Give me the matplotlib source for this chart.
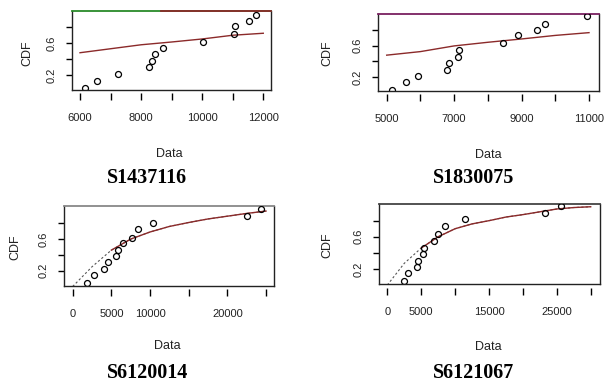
import matplotlib
matplotlib.use("Agg")
import matplotlib.pyplot as plt

# ---------------- data ----------------
titles = ["S1437116", "S1830075", "S6120014", "S6121067"]

p1_x = [6160, 6550, 7240, 8270, 8370, 8440, 8710, 10040, 11030, 11070, 11520, 11760]
p1_y = [0.04, 0.13, 0.21, 0.30, 0.37, 0.46, 0.54, 0.62, 0.72, 0.81, 0.88, 0.96]
p1_cx = [6000, 7000, 8000, 9000, 10000, 11000, 12000]
p1_cy = [0.48, 0.53, 0.58, 0.615, 0.653, 0.70, 0.725]

p2_x = [5150, 5560, 5920, 6800, 6850, 7110, 7150, 8460, 8880, 9470, 9680, 10940]
p2_y = [0.04, 0.14, 0.22, 0.29, 0.38, 0.46, 0.55, 0.63, 0.73, 0.80, 0.88, 0.97]
p2_cx = [5000, 6000, 7000, 8000, 9000, 10000, 11000]
p2_cy = [0.48, 0.525, 0.597, 0.643, 0.685, 0.73, 0.765]

p3_x = [1810, 2790, 4040, 4520, 5560, 5890, 6460, 7620, 8480, 10410, 22560, 24290]
p3_y = [0.05, 0.14, 0.22, 0.31, 0.39, 0.46, 0.55, 0.62, 0.73, 0.81, 0.89, 0.98]
p3_cx = [0, 2500, 5000, 7500, 10000, 12500, 15000, 17500, 20000, 22500, 25000]
p3_cy = [0.0, 0.25, 0.46, 0.60, 0.69, 0.76, 0.81, 0.855, 0.89, 0.925, 0.955]

p4_x = [2460, 3100, 4340, 4570, 5220, 5460, 6890, 7520, 8510, 11460, 23260, 25580]
p4_y = [0.055, 0.15, 0.23, 0.30, 0.38, 0.46, 0.55, 0.63, 0.73, 0.82, 0.89, 0.98]
p4_cx = [0, 2500, 5000, 7500, 10000, 12500, 15000, 17500, 20000, 22500, 25000, 27500, 30000]
p4_cy = [0.0, 0.27, 0.46, 0.60, 0.70, 0.76, 0.80, 0.845, 0.875, 0.91, 0.945, 0.963, 0.973]

x_ticks = [
    [6000, 7000, 8000, 9000, 10000, 11000, 12000],
    [5000, 6000, 7000, 8000, 9000, 10000, 11000],
    [0, 5000, 10000, 15000, 20000, 25000],
    [0, 5000, 10000, 15000, 20000, 25000, 30000],
]
x_ticklabels = [
    ["6000", "", "8000", "", "10000", "", "12000"],
    ["5000", "", "7000", "", "9000", "", "11000"],
    ["0", "5000", "10000", "", "20000", ""],
    ["0", "5000", "", "15000", "", "25000", ""],
]
y_ticks = [0.2, 0.4, 0.6, 0.8]
y_ticklabels = ["0.2", "", "0.6", ""]

# ---------------- layout ----------------
W, H = 608, 385
fig = plt.figure(figsize=(W / 100, H / 100), dpi=100)
fig.patch.set_facecolor("white")

sans = "Liberation Sans"
serif = "Liberation Serif"

boxes = [  # left, right, top, bottom in pixels
    (72, 270.5, 11, 90),
    (378.3, 598.7, 14, 90.7),
    (64, 274.3, 206, 285.7),
    (379.3, 599.7, 204, 284.3),
]
xlims = [(5738, 12236), (4751, 11287), (-1125, 26073), (-1180, 31327)]
ylims = [(0.011, 1.005), (0.03, 1.001), (0.01, 1.019), (0.01, 1.007)]
cdf_pos = [(27, 53), (327, 53), (15, 247), (327, 245)]
data_pos = [(169.5, 154), (488, 155), (167.5, 346), (488, 346.5)]
title_pos = [(147.5, 178), (474, 178), (147.5, 372.7), (474, 372.7)]
top_colors = ["#2a8a2a", "#7a2060", "#888888", "#444444"]

pts = [(p1_x, p1_y), (p2_x, p2_y), (p3_x, p3_y), (p4_x, p4_y)]
curves = [(p1_cx, p1_cy), (p2_cx, p2_cy), (p3_cx, p3_cy), (p4_cx, p4_cy)]
red = "#8b2a2a"

for i in range(4):
    l, r, t, b = boxes[i]
    ax = fig.add_axes([l / W, 1 - b / H, (r - l) / W, (b - t) / H])
    ax.spines["bottom"].set_position(("outward", 2.5))
    ax.spines["bottom"].set_visible(False)
    cx, cy = curves[i]
    if i >= 2:
        ax.plot(cx, cy, color="#555555", lw=0.8, linestyle=(0, (2, 2)), zorder=2)
        ax.plot(cx[2:], cy[2:], color=red, lw=1.0, zorder=3)
    else:
        ax.plot(cx, cy, color=red, lw=1.0, zorder=3)
    px, py = pts[i]
    ax.plot(px, py, linestyle="none", marker="o", markersize=4.3,
            markerfacecolor="none", markeredgecolor="black", markeredgewidth=0.9, zorder=4)
    ax.set_xlim(*xlims[i])
    ax.set_ylim(*ylims[i])
    ax.tick_params(axis="x", direction="out", length=5, width=1.0, pad=9,
                   labelsize=8, labelcolor="#222222")
    ax.tick_params(axis="y", direction="out", length=4, width=1.0, pad=7,
                   labelsize=8, labelcolor="#222222")
    ax.set_xticks(x_ticks[i])
    ax.set_xticklabels(x_ticklabels[i], fontfamily=sans, fontsize=8, color="#222222")
    ax.set_yticks(y_ticks)
    ax.set_yticklabels(y_ticklabels, fontfamily=sans, fontsize=8, color="#222222",
                       rotation=90, va="center")
    for s in ["left", "right"]:
        ax.spines[s].set_linewidth(1.0)
        ax.spines[s].set_color("#222222")
    ax.spines["top"].set_linewidth(1.3)
    ax.spines["top"].set_color(top_colors[i])
    if i >= 2:
        ax.spines["top"].set_linestyle((0, (1, 1)))
    if i == 0:
        ax.plot([0.45, 1.0], [1.0, 1.0], transform=ax.transAxes, color=red,
                lw=1.3, clip_on=False, zorder=5)
    ax.plot([0, 1], [0, 0], transform=ax.transAxes, color="#222222", lw=1.0,
            clip_on=False, zorder=5)

    x, y = cdf_pos[i]
    fig.text(x / W, 1 - y / H, "CDF", rotation=90, ha="center", va="center",
             fontfamily=sans, fontsize=9, color="#222222")
    x, y = data_pos[i]
    fig.text(x / W, 1 - y / H, "Data", ha="center", va="center",
             fontfamily=sans, fontsize=9, color="#222222")
    x, y = title_pos[i]
    fig.text(x / W, 1 - y / H, titles[i], ha="center", va="center",
             fontfamily=serif, fontsize=14.5, fontweight="bold", color="black")

fig.savefig("out.png", dpi=100, facecolor="white")
